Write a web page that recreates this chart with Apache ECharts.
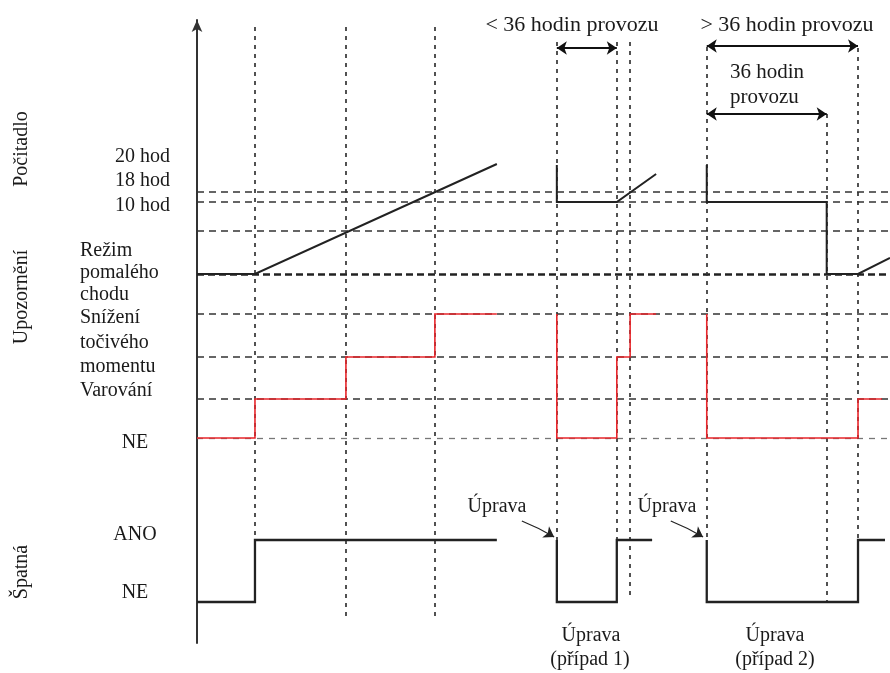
<!DOCTYPE html>
<html><head><meta charset="utf-8">
<script src="https://cdn.jsdelivr.net/npm/echarts@6/dist/echarts.min.js"></script>
<style>html,body{margin:0;padding:0;background:#fff}#c{width:890px;height:673px}</style>
</head><body><div id="c"></div>
<script>
// x: operating time (hours), y: diagram level units
const hGuideLevels = [44.8, 43.8, 40.9, 36.6, 32.6, 28.3, 24.1, 20.2];
const vGuides = [[17.4,61.3,10],[44.7,61.3,2],[71.4,61.3,2],[108,59.8,10],[126,59.8,10],[130,59.8,4.3],[153,59.3,10],[189,52.6,3.8],[198.4,59.2,10]];

const counter1 = [[0,36.6],[17.4,36.6],[90,47.6]];
const counter2 = [[108,47.5],[108,43.8],[126,43.8],[137.8,46.6]];
const counter3 = [[153,47.5],[153,43.8],[189,43.8],[189,36.6],[198.4,36.6],[208,38.2]];

const warn1 = [[0,20.2],[17.4,20.2],[17.4,24.1],[44.7,24.1],[44.7,28.3],[71.4,28.3],[71.4,32.6],[90,32.6]];
const warn2 = [[108,32.6],[108,20.2],[126,20.2],[126,28.3],[130,28.3],[130,32.6],[137.8,32.6]];
const warn3 = [[153,32.6],[153,20.2],[198.4,20.2],[198.4,24.1],[205.6,24.1]];

const bad1 = [[0,3.8],[17.4,3.8],[17.4,10],[90,10]];
const bad2 = [[108,10],[108,3.8],[126,3.8],[126,10],[136.6,10]];
const bad3 = [[153,10],[153,3.8],[198.4,3.8],[198.4,10],[206.5,10]];

const spanArrows = [[108,126,59.2],[153,198.4,59.4],[153,189,52.6]];
const pointerArrows = [[[97.5,11.9],[107.2,10.3]],[[142.2,11.9],[151.9,10.3]]];

const FONT = '"Liberation Serif", "DejaVu Serif", serif';
const chart = echarts.init(document.getElementById('c'));

function hStyle(v){
  if (v === 36.6) return {color:'#222', width:2.6, type:[7,4], opacity:1};
  if (v === 20.2) return {color:'#777', width:1.3, type:[6,6], opacity:1};
  return {color:'#333', width:1.5, type:[7,5], opacity:1};
}
const hData = hGuideLevels.map(v => ({coords:[[0,v],[208,v]], lineStyle:hStyle(v)}));
const vData = vGuides.map(g => ({coords:[[g[0],g[1]],[g[0],g[2]]]}));

function sig(arr, color, width){
  return {type:'lines', coordinateSystem:'cartesian2d', polyline:true, z:5,
    lineStyle:{color:color, width:width, opacity:1}, data:arr.map(a=>({coords:a})), silent:true};
}

const texts = [];
function t(str, x, y, opt){
  opt = opt || {};
  texts.push({type:'text', x:x, y:y, rotation:opt.rot||0, z:100,
    style:{text:str, font:(opt.size||20)+'px '+FONT, fill:'#1a1a1a', align:opt.align||'center', verticalAlign:'middle'}});
}
t('Počitadlo', 22, 149, {rot:Math.PI/2});
t('Upozornění', 22, 297, {rot:Math.PI/2});
t('Špatná', 22, 572, {rot:Math.PI/2});
t('20 hod', 170, 157, {align:'right'});
t('18 hod', 170, 181, {align:'right'});
t('10 hod', 170, 206, {align:'right'});
[['Režim',251],['pomalého',273],['chodu',295],['Snížení',318],['točivého',343],['momentu',367],['Varování',391]]
  .forEach(p => t(p[0], 80, p[1], {align:'left'}));
t('NE', 135, 443); t('ANO', 135, 535); t('NE', 135, 593);
t('< 36 hodin provozu', 572, 25, {size:22});
t('> 36 hodin provozu', 787, 25, {size:22});
t('36 hodin', 730, 72, {align:'left', size:21});
t('provozu', 730, 97, {align:'left', size:21});
t('Úprava', 497, 507); t('Úprava', 667, 507);
t('Úprava', 591, 636); t('(případ 1)', 590, 660);
t('Úprava', 775, 636); t('(případ 2)', 775, 660);

chart.setOption({
  animation:false,
  backgroundColor:'#fff',
  grid:{left:197, right:0, top:20, bottom:30, containLabel:false},
  xAxis:{type:'value', min:0, max:208, show:false},
  yAxis:{type:'value', min:-0.3, max:62, axisLine:{show:true, symbol:['none','arrow'], symbolSize:[8,12], lineStyle:{color:'#333', width:2}},
    axisTick:{show:false}, axisLabel:{show:false}, splitLine:{show:false}},
  graphic:texts,
  series:[
    {type:'lines', coordinateSystem:'cartesian2d', z:1, silent:true, data:hData},
    {type:'lines', coordinateSystem:'cartesian2d', z:1, silent:true, lineStyle:{color:'#333', width:1.7, type:[4,5], opacity:1}, data:vData},
    sig([counter1, counter2, counter3], '#222', 2),
    sig([warn1, warn2, warn3], '#e8262b', 1.6),
    sig([bad1, bad2, bad3], '#222', 2.3),
    {type:'lines', coordinateSystem:'cartesian2d', z:6, silent:true, symbol:['arrow','arrow'], symbolSize:10,
      lineStyle:{color:'#111', width:2, opacity:1}, data:spanArrows.map(a=>({coords:[[a[0],a[2]],[a[1],a[2]]]}))},
    {type:'lines', coordinateSystem:'cartesian2d', z:6, silent:true, symbol:['none','arrow'], symbolSize:10,
      lineStyle:{color:'#222', width:1.3, opacity:1, curveness:0.04}, data:pointerArrows.map(a=>({coords:a}))}
  ]
});
</script></body></html>
